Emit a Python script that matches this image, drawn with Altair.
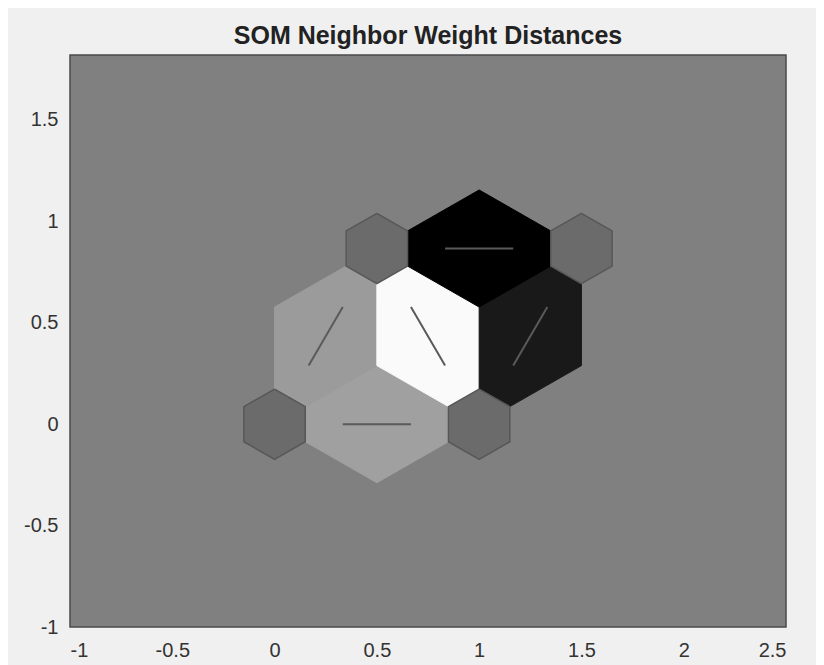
import math
import altair as alt
import pandas as pd

# ---- data ----
neuron_x = [0.0, 1.0, 0.5, 1.5]
neuron_y = [0.0, 0.0, 0.866, 0.866]
pair_i = [0, 0, 1, 1, 2]
pair_j = [1, 2, 2, 3, 3]
pair_dist = [0.66, 0.68, 0.30, 1.20, 1.30]   # estimated neighbor weight distances

x_ticks = [-1, -0.5, 0, 0.5, 1, 1.5, 2, 2.5]
y_ticks = [-1, -0.5, 0, 0.5, 1, 1.5]

# ---- geometry (derived from neuron positions) ----
R = 1 / math.sqrt(3)      # voronoi hexagon radius
r = 0.3 * R               # neuron hexagon radius


def u(deg):
    a = math.radians(deg)
    return math.cos(a), math.sin(a)


patch_rows = []
line_rows = []
for p, (i, j, d) in enumerate(zip(pair_i, pair_j, pair_dist)):
    xi, yi = neuron_x[i], neuron_y[i]
    xj, yj = neuron_x[j], neuron_y[j]
    th = math.degrees(math.atan2(yj - yi, xj - xi))
    pts = [
        (xi + r * u(th - 30)[0], yi + r * u(th - 30)[1]),
        (xi + R * u(th - 30)[0], yi + R * u(th - 30)[1]),
        (xj + r * u(th + 210)[0], yj + r * u(th + 210)[1]),
        (xj + r * u(th + 150)[0], yj + r * u(th + 150)[1]),
        (xi + R * u(th + 30)[0], yi + R * u(th + 30)[1]),
        (xi + r * u(th + 30)[0], yi + r * u(th + 30)[1]),
    ]
    pts.append(pts[0])
    for k, (px, py) in enumerate(pts):
        patch_rows.append({"pid": p, "k": k, "x": px, "y": py, "dist": d})
    line_rows.append({"pid": p, "k": 0, "x": (2 * xi + xj) / 3, "y": (2 * yi + yj) / 3})
    line_rows.append({"pid": p, "k": 1, "x": (xi + 2 * xj) / 3, "y": (yi + 2 * yj) / 3})

neuron_rows = []
for n, (nx, ny) in enumerate(zip(neuron_x, neuron_y)):
    for k in range(7):
        a = 90 - 60 * (k % 6)
        neuron_rows.append({"nid": n, "k": k, "x": nx + r * u(a)[0], "y": ny + r * u(a)[1]})

patches = pd.DataFrame(patch_rows)
lines = pd.DataFrame(line_rows)
neurons = pd.DataFrame(neuron_rows)

label_expr = "'' + datum.value"
xscale = alt.Scale(domain=[-1, 2.5], nice=False, zero=False)
yscale = alt.Scale(domain=[-1, 1.82], nice=False, zero=False)
xaxis = alt.Axis(values=x_ticks, labelExpr=label_expr, title=None, grid=False,
                 ticks=False, domain=False, labelPadding=13, labelFontSize=20,
                 labelFont="Liberation Sans", labelColor="#333333")
yaxis = alt.Axis(values=y_ticks, labelExpr=label_expr, title=None, grid=False,
                 ticks=False, domain=False, labelPadding=12, labelFontSize=20,
                 labelFont="Liberation Sans", labelColor="#333333")

gray = alt.Scale(domain=[min(pair_dist), max(pair_dist)], range=["#fafafa", "#000000"],
                 interpolate="rgb")

patch_layer = alt.Chart(patches).mark_line(strokeWidth=1, clip=True).encode(
    x=alt.X("x:Q", scale=xscale, axis=xaxis),
    y=alt.Y("y:Q", scale=yscale, axis=yaxis),
    fill=alt.Fill("dist:Q", scale=gray, legend=None),
    stroke=alt.Stroke("dist:Q", scale=gray, legend=None),
    detail="pid:N",
    order="k:Q",
)

neuron_layer = alt.Chart(neurons).mark_line(
    fill="#6b6b6b", stroke="#575757", strokeWidth=1.5, clip=True
).encode(
    x=alt.X("x:Q", scale=xscale),
    y=alt.Y("y:Q", scale=yscale),
    detail="nid:N",
    order="k:Q",
)

line_layer = alt.Chart(lines).mark_line(color="#5a5a5a", strokeWidth=2, clip=True).encode(
    x=alt.X("x:Q", scale=xscale),
    y=alt.Y("y:Q", scale=yscale),
    detail="pid:N",
    order="k:Q",
)

chart = alt.layer(patch_layer, neuron_layer, line_layer).properties(
    width=716,
    height=572,
    title=alt.TitleParams("SOM Neighbor Weight Distances", fontSize=25, font="Liberation Sans",
                          fontWeight="bold", color="#222222", anchor="middle",
                          baseline="bottom", offset=10, dy=29),
    autosize=alt.AutoSizeParams(type="none"),
    padding={"left": 62, "top": 47, "right": 30, "bottom": 42},
).configure(background="#f0f0f0").configure_view(
    fill="#808080", stroke="#4a4a4a", strokeWidth=1.5
)

chart.save("out.html", embed_options={"renderer": "svg", "actions": False})
